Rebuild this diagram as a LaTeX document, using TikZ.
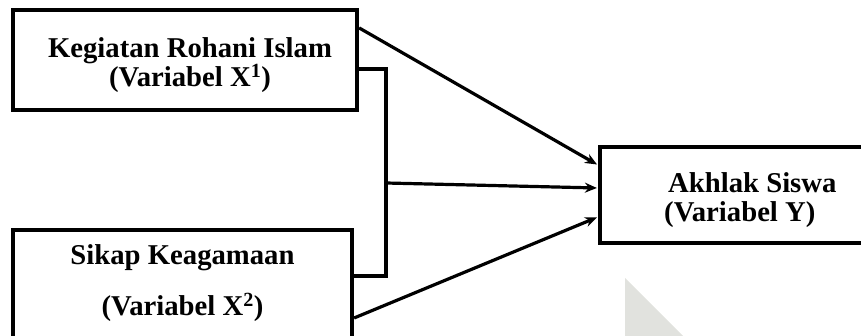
\documentclass[tikz,border=0pt]{standalone}
\usepackage{fontspec}
\setmainfont{Liberation Serif}
\usetikzlibrary{arrows.meta}
\definecolor{wmark}{RGB}{225,226,222}
\tikzset{
  varbox/.style={draw=black, line width=4.2pt, rectangle, inner sep=0pt},
  vartext/.style={inner sep=0pt, align=center,
    font=\fontsize{28.7}{29.5}\selectfont\bfseries},
  link/.style={line width=3.2pt, draw=black},
  arrowlink/.style={link, -{Stealth[length=12pt,width=10pt]}, shorten >=1pt}
}
\begin{document}
\begin{tikzpicture}[x=1pt,y=-1pt]
  \useasboundingbox (0,0) rectangle (861,336);
  % faint background mark
  \fill[wmark] (625,278) -- (625,337) -- (684,337) -- cycle;

  % variable boxes
  \node[varbox, minimum width=344pt, minimum height=100pt] (kri) at (185,60) {};
  \node[varbox, minimum width=339pt, minimum height=110pt] (sk) at (182.5,285) {};
  \node[varbox, minimum width=300pt, minimum height=96pt] (as) at (750,195) {};

  % box captions
  \node[vartext] (kri-t) at (190,65)
    {Kegiatan Rohani Islam\\(Variabel X\textsuperscript{1})};
  \node[vartext, font=\fontsize{28.7}{51}\selectfont\bfseries] (sk-t) at (182.5,283)
    {Sikap Keagamaan\\(Variabel X\textsuperscript{2})};
  \node[vartext, align=left, anchor=west] (as-t) at (664,200)
    {\hspace{4pt}Akhlak Siswa\\(Variabel Y)};

  % junction of the combined path
  \coordinate (jn) at (386,183);

  % bracket joining both predictors
  \draw[link] ([yshift=-9pt]kri.east) -| (jn) |- ([yshift=9pt]sk.east);

  % arrows into the outcome
  \draw[arrowlink] ([yshift=-20pt]kri.north east) -- ([yshift=30pt]as.west);
  \draw[arrowlink] (jn) -- ([yshift=7pt]as.west);
  \draw[arrowlink] ([yshift=-33pt]sk.east) -- ([yshift=-22pt]as.west);
\end{tikzpicture}
\end{document}
